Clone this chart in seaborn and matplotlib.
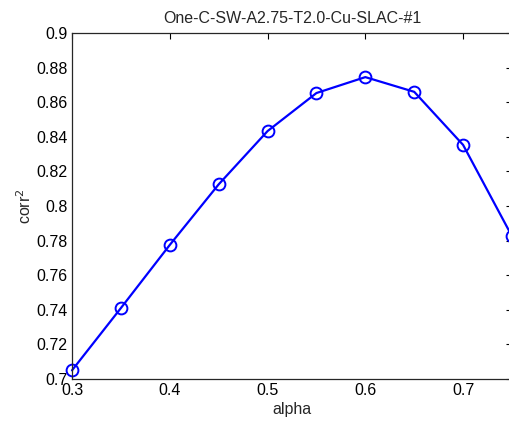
import matplotlib
matplotlib.use("Agg")
import matplotlib.pyplot as plt
import seaborn as sns
import pandas as pd

alpha = [0.30, 0.35, 0.40, 0.45, 0.50, 0.55, 0.60, 0.65, 0.70, 0.75]
corr2 = [0.705, 0.741, 0.7775, 0.8125, 0.8433, 0.8653, 0.8745, 0.8660, 0.8353, 0.7825]
xticks = [0.3, 0.4, 0.5, 0.6, 0.7]
yticks = [0.7, 0.72, 0.74, 0.76, 0.78, 0.8, 0.82, 0.84, 0.86, 0.88, 0.9]
ytick_labels = ["0.7", "0.72", "0.74", "0.76", "0.78", "0.8", "0.82", "0.84", "0.86", "0.88", "0.9"]
xtick_labels = ["0.3", "0.4", "0.5", "0.6", "0.7"]

sns.set_style("white")
plt.rcParams['font.family'] = ['Liberation Sans', 'DejaVu Sans']

df = pd.DataFrame({"alpha": alpha, "corr2": corr2})

fig = plt.figure(figsize=(5.10, 4.24), dpi=100)
ax = fig.add_axes([72/510, 1-379/424, 440/510, 346/424])
sns.lineplot(data=df, x="alpha", y="corr2", ax=ax, color=(0, 0, 1), linewidth=1.6,
             marker="o", markersize=8.5, markerfacecolor="none", markeredgecolor=(0, 0, 1),
             markeredgewidth=1.4)
ax.set_xlim(0.3, 0.75)
ax.set_ylim(0.7, 0.9)
ax.set_xticks(xticks)
ax.set_xticklabels(xtick_labels)
ax.set_yticks(yticks)
ax.set_yticklabels(ytick_labels)
ax.tick_params(direction="in", top=True, right=True, length=4, width=0.8,
               labelsize=11.5, colors="black", pad=3)
for s in ax.spines.values():
    s.set_color("#262626")
    s.set_linewidth(0.9)
ax.set_xlabel("alpha", fontsize=11.5, labelpad=3)
ax.set_ylabel("corr$^2$", fontsize=11.5, labelpad=2)
ax.set_title("One-C-SW-A2.75-T2.0-Cu-SLAC-#1", fontsize=11.5, pad=7)
for line in ax.lines:
    line.set_clip_on(False)
fig.savefig("out.png", dpi=100)
